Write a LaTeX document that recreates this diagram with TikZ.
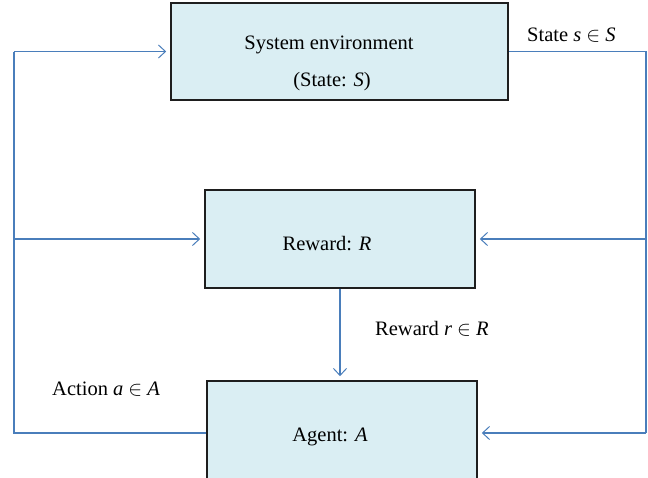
\documentclass[tikz,border=0pt]{standalone}
\usepackage{fontspec}
\setmainfont{Liberation Serif}
\usetikzlibrary{arrows.meta}
\definecolor{lineblue}{HTML}{4A7EBB}
\definecolor{boxfill}{HTML}{DAEEF3}
\definecolor{boxborder}{HTML}{1E1E1E}
\begin{document}
\begin{tikzpicture}[x=1pt,y=-1pt,
  box/.style={draw=boxborder, line width=1.6pt, fill=boxfill, inner sep=0pt},
  txt/.style={font=\fontsize{20.5}{24}\selectfont, inner sep=0pt, anchor=base},
  lbl/.style={font=\fontsize{20.5}{24}\selectfont, inner sep=0pt, anchor=base west},
  conn/.style={draw=lineblue, line width=1.6pt},
  arr/.style={conn, -{Straight Barb[length=7pt,width=13pt,line width=1pt]}, shorten >=4pt}]
\clip (0,0) rectangle (648,477);
\fill[white] (0,0) rectangle (648,477);
% boxes
\node[box, minimum width=337pt, minimum height=97pt] (env) at (339.5,51.5) {};
\node[box, minimum width=270pt, minimum height=98pt] (rew) at (340,239) {};
\node[box, minimum width=270pt, minimum height=104pt] (agent) at (342,433) {};
% texts in boxes
\node[txt] (envt1) at (329,49.5) {System environment};
\node[txt] (envt2) at (332,86) {(State: \textit{S})};
\node[txt] (rewt) at (327,250.5) {Reward: \textit{R}};
\node[txt] (agentt) at (330,441) {Agent: \textit{A}};
% connector corners
\coordinate (tl) at (14,51.5);
\coordinate (bl) at (14,433);
\coordinate (tr) at (646,51.5);
\coordinate (br) at (646,433);
\coordinate (ml) at (14,239);
\coordinate (mr) at (646,239);
% left loop: agent -> env
\draw[conn] (agent.west) -- (bl) -- (tl);
\draw[arr] (tl) -- (env.west);
\draw[arr] (ml) -- (rew.west);
% right: env -> reward, agent
\draw[conn] (env.east) -- (tr) -- (br);
\draw[arr] (mr) -- (rew.east);
\draw[arr] (br) -- (agent.east);
% reward -> agent
\draw[arr] (rew.south) -- (rew.south |- agent.north);
% labels
\node[lbl] (lstate) at (527,41) {State \textit{s} $\in$ \textit{S}};
\node[lbl] (lrew) at (375,335) {Reward \textit{r} $\in$ \textit{R}};
\node[lbl] (lact) at (52,395) {Action \textit{a} $\in$ \textit{A}};
\end{tikzpicture}
\end{document}
